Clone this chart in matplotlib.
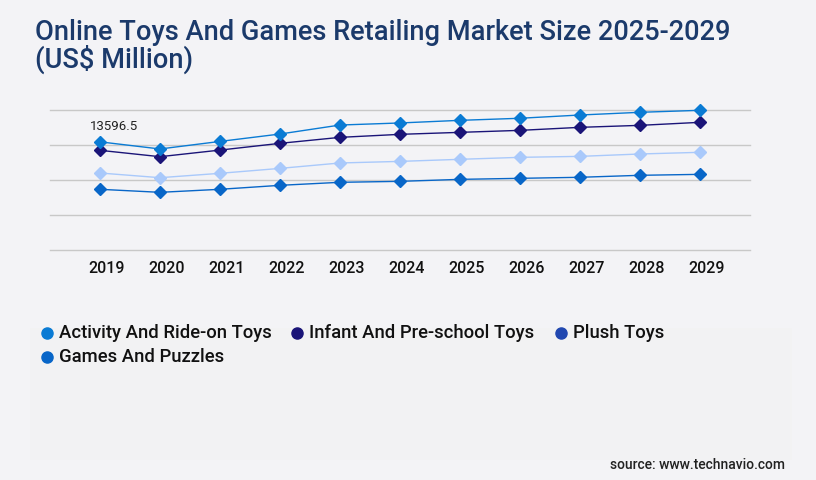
import matplotlib
matplotlib.use('Agg')
import matplotlib.pyplot as plt
import matplotlib.transforms as mtransforms
from matplotlib.lines import Line2D

years = [2019, 2020, 2021, 2022, 2023, 2024, 2025, 2026, 2027, 2028, 2029]
activity = [13596.5, 12700, 13650, 14580, 15710, 15970, 16300, 16560, 16970, 17310, 17560]
infant = [12530, 11730, 12560, 13410, 14160, 14540, 14790, 15040, 15420, 15670, 16050]
plush = [9680, 9090, 9640, 10260, 10940, 11140, 11400, 11650, 11770, 12070, 12280]
games = [7630, 7250, 7630, 8130, 8510, 8630, 8880, 9010, 9140, 9390, 9510]
series_names = ['Activity And Ride-on Toys', 'Infant And Pre-school Toys', 'Plush Toys', 'Games And Puzzles']
line_colors = ['#0a7bd4', '#1a1478', '#a9c9fb', '#0866c8']
legend_colors = ['#0a7bd4', '#1a1478', '#2148b0', '#0866c8']
grid_vals = [0, 4400, 8800, 13200, 17600]

bg = '#f3f3f6'
fig = plt.figure(figsize=(8.16, 4.8), dpi=100, facecolor=bg)
# faint panel behind the legend
fig.patches.append(plt.Rectangle((30/816, 20/480), 762/816, 132/480, transform=fig.transFigure,
                                 facecolor='#f2f2f3', edgecolor='none', zorder=0))

ax = fig.add_axes([50/816, 230/480, 700/816, 140/480])
ax.set_facecolor('none')

for vals, c in zip([games, plush, infant, activity], line_colors[::-1]):
    ax.plot(years, vals, '-', color=c, lw=1.0, marker='D', markersize=6.3, clip_on=False, zorder=3)

ax.set_xlim(2019 - 50/60, 2029 + 50/60)
ax.set_ylim(0, 17600)
ax.set_yticks(grid_vals)
ax.set_yticklabels([])
ax.tick_params(axis='y', length=0)
for g in grid_vals:
    ax.axhline(g, color='#c8c8c8', lw=1, clip_on=False, zorder=1)
for s in ax.spines.values():
    s.set_visible(False)

ax.set_xticks(years)
ax.set_xticklabels([str(y) for y in years], fontsize=11.5, fontfamily='Roboto', fontweight='medium', color='#111111')
ax.tick_params(axis='x', length=0, pad=8)
offset = mtransforms.ScaledTranslation(7/100, 0, fig.dpi_scale_trans)
for lbl in ax.get_xticklabels():
    lbl.set_transform(lbl.get_transform() + offset)

ax.annotate(f'{activity[0]}', (years[0], activity[0]), xytext=(10, 11), textcoords='offset points',
            ha='center', va='center', fontsize=9.5, color='#222222', fontfamily='Roboto')

fig.text(35/816, 1 - 32/480, 'Online Toys And Games Retailing Market Size 2025-2029', fontsize=19.6,
         fontfamily='Roboto', fontweight='medium', color='#1b3a6b', va='center')
fig.text(35/816, 1 - 59/480, '(US$ Million)', fontsize=19.6,
         fontfamily='Roboto', fontweight='medium', color='#1b3a6b', va='center')

# legend laid out in rows: three on the first, one on the second
legend_pos = [(47, 333), (297, 333), (561, 333), (47, 357)]
for name, c, (lx, ly) in zip(series_names, legend_colors, legend_pos):
    fig.add_artist(Line2D([lx/816], [1 - ly/480], transform=fig.transFigure, ls='none',
                          marker='o', markersize=8, color=c))
    fig.text((lx + 12)/816, 1 - ly/480, name, va='center', ha='left', fontsize=13.3,
             fontfamily='Roboto', fontweight='medium', color='#111111')

fig.text(785/816, 1 - 465/480, 'source: www.technavio.com', ha='right', va='center', fontsize=10,
         fontfamily='Roboto', fontweight='medium', color='#222222')

fig.savefig('out.png', dpi=100, facecolor=bg)
